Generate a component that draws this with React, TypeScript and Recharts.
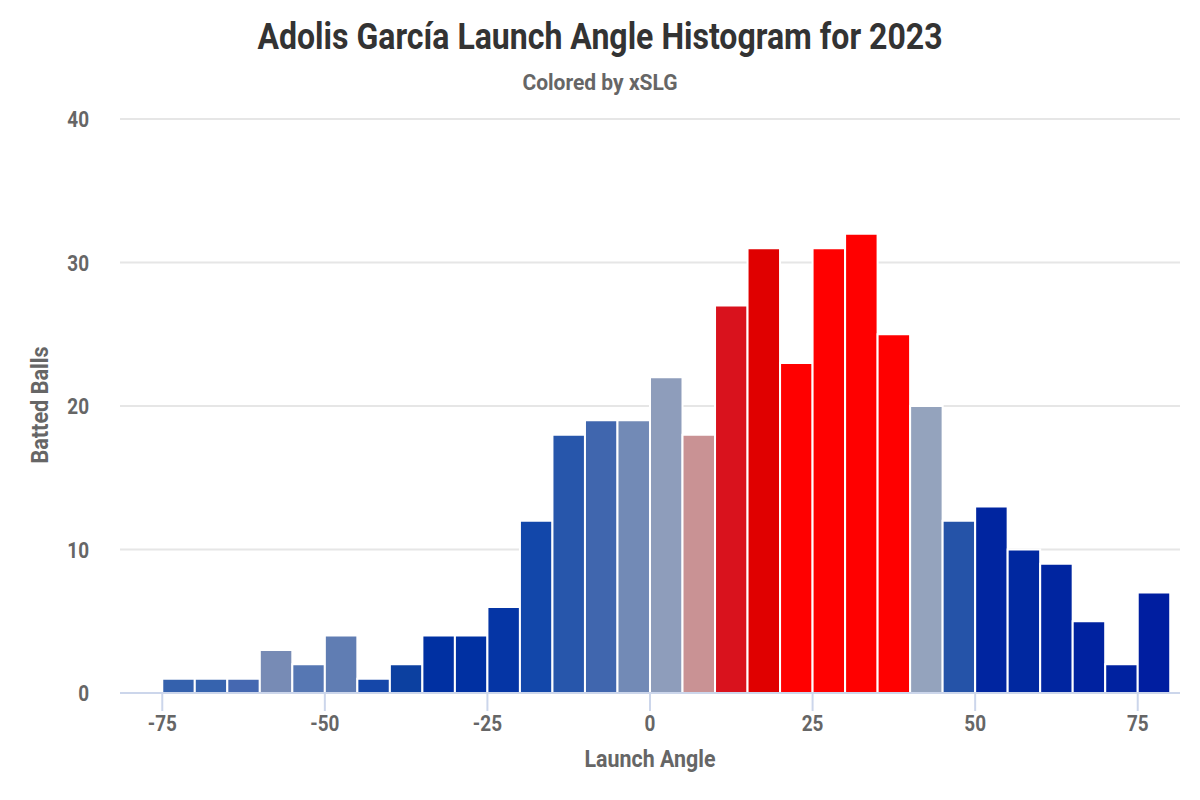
import { BarChart, Bar, Cell, XAxis, YAxis, CartesianGrid } from 'recharts'

// launch angle bins (left edge, degrees)
const binStarts = [
  -75, -70, -65, -60, -55, -50, -45, -40, -35, -30, -25, -20, -15, -10, -5,
  0, 5, 10, 15, 20, 25, 30, 35, 40, 45, 50, 55, 60, 65, 70, 75,
]

// batted balls per bin
const counts = [
  1, 1, 1, 3, 2, 4, 1, 2, 4, 4, 6, 12, 18, 19, 19,
  22, 18, 27, 31, 23, 31, 32, 25, 20, 12, 13, 10, 9, 5, 2, 7,
]

// xSLG colour per bin
const barColors = [
  '#3461ad', '#3663ae', '#4568b1', '#778bb5', '#5677b3', '#607db3', '#1547a9', '#0c40a0',
  '#0030a2', '#0030a2', '#0535a5', '#1247aa', '#2756ab', '#4066ae', '#728ab6',
  '#8e9dbb', '#c99294', '#d9121d', '#e00000', '#ff0000', '#ff0000', '#ff0000', '#ff0000',
  '#94a3bd', '#2553a8', '#0025a0', '#0028a0', '#0025a0', '#0022a0', '#0022a0', '#001ea0',
]

const xTicks = [-75, -50, -25, 0, 25, 50, 75]
const yTicks = [0, 10, 20, 30, 40]

const data = binStarts.map((start, i) => ({ angle: start + 2.5, count: counts[i] }))

const FONT = 'Roboto, sans-serif'
const SQUEEZE = 0.86 // fake a condensed face for tick labels

function XTick({ x, y, payload }: any) {
  return (
    <g transform={`translate(${x},${y})`}>
      <text
        transform={`scale(${SQUEEZE},1)`}
        textAnchor="middle"
        dy={18}
        fontFamily={FONT}
        fontWeight={700}
        fontSize={22}
        fill="#666666"
      >
        {payload.value}
      </text>
    </g>
  )
}

function YTick({ x, y, payload }: any) {
  return (
    <g transform={`translate(${x},${y})`}>
      <text
        transform={`scale(${SQUEEZE},1)`}
        textAnchor="end"
        dy={8}
        fontFamily={FONT}
        fontWeight={700}
        fontSize={22}
        fill="#666666"
      >
        {payload.value}
      </text>
    </g>
  )
}

const labelBase = {
  position: 'absolute' as const,
  fontFamily: FONT,
  fontWeight: 700,
  whiteSpace: 'nowrap' as const,
  textAlign: 'center' as const,
}

export default function App() {
  return (
    <div style={{ position: 'relative', width: 1200, height: 800, margin: -8, background: '#fff' }}>
      <div
        style={{
          ...labelBase,
          left: 0,
          width: 1200,
          top: 17,
          fontSize: 36,
          lineHeight: '40px',
          color: '#333333',
          transform: 'scaleX(0.89)',
        }}
      >
        Adolis García Launch Angle Histogram for 2023
      </div>
      <div
        style={{
          ...labelBase,
          left: 0,
          width: 1200,
          top: 71,
          fontSize: 22,
          lineHeight: '24px',
          color: '#666666',
          transform: 'scaleX(0.955)',
        }}
      >
        Colored by xSLG
      </div>
      <div
        style={{
          ...labelBase,
          left: 0,
          width: 1300,
          top: 748,
          fontSize: 23,
          lineHeight: '24px',
          color: '#666666',
          transform: 'scaleX(0.93)',
        }}
      >
        Launch Angle
      </div>
      <div
        style={{
          ...labelBase,
          left: 40.5 - 100,
          width: 200,
          top: 405 - 12,
          fontSize: 23,
          lineHeight: '24px',
          color: '#666666',
          transform: 'rotate(-90deg) scaleX(0.94)',
        }}
      >
        Batted Balls
      </div>

      <BarChart
        width={1200}
        height={800}
        data={data}
        margin={{ top: 119, right: 20, bottom: 0, left: 60 }}
        barCategoryGap={0}
        barGap={0}
      >
        <CartesianGrid vertical={false} stroke="#e6e6e6" strokeWidth={2} />
        <XAxis
          type="number"
          dataKey="angle"
          domain={[-81.5, 81.5]}
          ticks={xTicks}
          allowDataOverflow
          height={107}
          axisLine={{ stroke: '#ccd6eb', strokeWidth: 2 }}
          tickLine={{ stroke: '#ccd6eb', strokeWidth: 2 }}
          tickSize={18}
          tickMargin={2}
          tick={<XTick />}
        />
        <YAxis
          type="number"
          domain={[0, 40]}
          ticks={yTicks}
          width={60}
          axisLine={false}
          tickLine={false}
          tickSize={6}
          tickMargin={25}
          tick={<YTick />}
        />
        <Bar dataKey="count" barSize={32.5} stroke="#ffffff" strokeWidth={2} isAnimationActive={false}>
          {data.map((_, i) => (
            <Cell key={i} fill={barColors[i]} />
          ))}
        </Bar>
      </BarChart>
    </div>
  )
}
